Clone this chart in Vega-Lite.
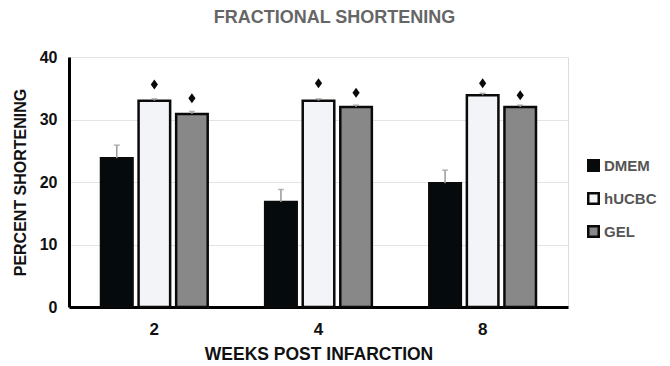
{
  "$schema": "https://vega.github.io/schema/vega-lite/v6.json",
  "autosize": "none",
  "width": 499,
  "height": 250,
  "padding": {"left": 69, "top": 57, "right": 102, "bottom": 59},
  "background": "white",
  "title": {
    "text": "FRACTIONAL SHORTENING",
    "fontSize": 18,
    "font": "Liberation Sans",
    "fontWeight": "bold",
    "color": "#666666",
    "anchor": "middle",
    "offset": 22,
    "dx": 16
  },
  "data": {
    "values": [
      {"week": "2", "group": "DMEM", "value": 23.8, "upper": 25.9, "marker": null},
      {"week": "2", "group": "hUCBC", "value": 33.0, "upper": 33.3, "marker": 35.6},
      {"week": "2", "group": "GEL", "value": 30.9, "upper": 31.3, "marker": 33.4},
      {"week": "4", "group": "DMEM", "value": 16.8, "upper": 18.8, "marker": null},
      {"week": "4", "group": "hUCBC", "value": 33.0, "upper": 33.3, "marker": 35.8},
      {"week": "4", "group": "GEL", "value": 32.0, "upper": 32.3, "marker": 34.3},
      {"week": "8", "group": "DMEM", "value": 19.8, "upper": 21.9, "marker": null},
      {"week": "8", "group": "hUCBC", "value": 33.9, "upper": 34.2, "marker": 35.8},
      {"week": "8", "group": "GEL", "value": 32.0, "upper": 32.3, "marker": 33.9}
    ]
  },
  "encoding": {
    "x": {
      "field": "week",
      "type": "ordinal",
      "sort": ["2", "4", "8"],
      "scale": {"paddingInner": 0.35, "paddingOuter": 0.195},
      "axis": {
        "title": "WEEKS POST INFARCTION",
        "labelAngle": 0,
        "labelFont": "Liberation Sans",
        "labelFontWeight": "bold",
        "labelFontSize": 17,
        "labelColor": "#111111",
        "labelPadding": 14,
        "ticks": false,
        "domainColor": "#000000",
        "domainWidth": 3,
        "titleFont": "Liberation Sans",
        "titleFontWeight": "bold",
        "titleFontSize": 17.5,
        "titleColor": "#111111",
        "titlePadding": 8,
        "grid": false
      }
    },
    "xOffset": {
      "field": "group",
      "type": "nominal",
      "sort": ["DMEM", "hUCBC", "GEL"],
      "scale": {"paddingInner": 0.16, "paddingOuter": 0}
    }
  },
  "layer": [
    {
      "mark": {"type": "bar", "stroke": "#0a0a0a", "strokeWidth": 2.5},
      "encoding": {
        "y": {
          "field": "value",
          "type": "quantitative",
          "scale": {"domain": [0, 40]},
          "axis": {
            "title": "PERCENT SHORTENING",
            "values": [0, 10, 20, 30, 40],
            "labelFont": "Liberation Sans",
            "labelFontWeight": "bold",
            "labelFontSize": 16,
            "labelColor": "#111111",
            "labelPadding": 12,
            "ticks": false,
            "domainColor": "#000000",
            "domainWidth": 3,
            "gridColor": "#e4e4e4",
            "gridWidth": 1,
            "titleFont": "Liberation Sans",
            "titleFontWeight": "bold",
            "titleFontSize": 16,
            "titleColor": "#111111",
            "titlePadding": 11
          }
        },
        "fill": {
          "field": "group",
          "type": "nominal",
          "sort": ["DMEM", "hUCBC", "GEL"],
          "scale": {"domain": ["DMEM", "hUCBC", "GEL"], "range": ["#050a0c", "#f3f4f7", "#888888"]},
          "legend": {
            "title": null,
            "orient": "none",
            "legendX": 517,
            "legendY": 101,
            "symbolType": "square",
            "symbolSize": 110,
            "symbolStrokeColor": "#0a0a0a",
            "symbolStrokeWidth": 2.5,
            "symbolOpacity": 1,
            "labelFont": "Liberation Sans",
            "labelFontWeight": "bold",
            "labelFontSize": 15,
            "labelColor": "#555555",
            "labelOffset": 3,
            "rowPadding": 12
          }
        }
      }
    },
    {
      "mark": {"type": "rule", "color": "#999999", "strokeWidth": 1.5},
      "encoding": {
        "y": {"field": "value", "type": "quantitative"},
        "y2": {"field": "upper"}
      }
    },
    {
      "mark": {"type": "tick", "color": "#999999", "thickness": 1.5, "size": 6, "orient": "horizontal"},
      "encoding": {
        "y": {"field": "upper", "type": "quantitative"}
      }
    },
    {
      "transform": [{"filter": "datum.marker != null"}],
      "mark": {"type": "point", "shape": "M0,-1L0.72,0L0,1L-0.72,0Z", "filled": true, "color": "#0a0a0a", "size": 100, "opacity": 1},
      "encoding": {
        "y": {"field": "marker", "type": "quantitative"}
      }
    }
  ]
}
